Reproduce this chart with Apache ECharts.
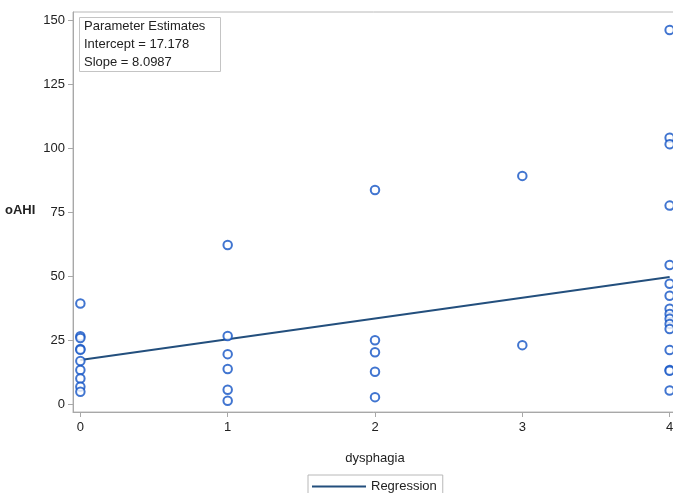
<!DOCTYPE html>
<html>
<head>
<meta charset="utf-8">
<script src="https://cdn.jsdelivr.net/npm/echarts@6/dist/echarts.min.js"></script>
<style>
html,body{margin:0;padding:0;background:#fff;}
#c{width:673px;height:493px;}
</style>
</head>
<body>
<div id="c"></div>
<script>
// dysphagia score (x) and oAHI (y)
const dysphagia = [
  0,0,0,0,0,0,0,0,0,0,
  1,1,1,1,1,1,
  2,2,2,2,2,
  3,3,
  4,4,4,4,4,4,4,4,4,4,4,4,4,4,4,4
];
const oAHI = [
  39.3,26.5,25.8,21.5,21.2,16.8,13.3,10.0,6.8,4.8,
  62.1,26.6,19.5,13.7,5.6,1.3,
  83.6,24.9,20.2,12.6,2.7,
  89.1,23.0,
  146.1,104.0,101.5,77.5,54.3,47.0,42.3,37.2,35.2,33.3,31.3,29.3,21.1,13.3,13.0,5.3
];
const xTicks = [0,1,2,3,4];
const yTicks = [0,25,50,75,100,125,150];
const intercept = 17.178;
const slope = 8.0987;
const regX = [0,4];
const estimateLines = ['Parameter Estimates','Intercept = 17.178','Slope = 8.0987'];

const pts = dysphagia.map((x,i)=>[x,oAHI[i]]);
const reg = regX.map(x=>[x, intercept + slope*x]);
const FONT = 'Liberation Sans';

const chart = echarts.init(document.getElementById('c'));
chart.setOption({
  animation:false,
  textStyle:{fontFamily:FONT},
  grid:{left:73, top:12, width:604, height:400, show:true, borderColor:'#b8b8b8', borderWidth:1,
        outerBoundsMode:'none', containLabel:false},
  xAxis:{
    type:'value', min:-0.05, max:4.05,
    name:'dysphagia', nameLocation:'middle', nameGap:40,
    nameTextStyle:{fontFamily:FONT, fontSize:13, color:'#222'},
    axisLine:{show:true, onZero:false, lineStyle:{color:'#a8a8a8'}},
    axisTick:{show:true, length:5, lineStyle:{color:'#a8a8a8'}, customValues:xTicks},
    axisLabel:{fontFamily:FONT, fontSize:13, color:'#222', margin:9, customValues:xTicks},
    splitLine:{show:false}
  },
  yAxis:{
    type:'value', min:-3.1, max:153.1,
    axisLine:{show:true, onZero:false, lineStyle:{color:'#a8a8a8'}},
    axisTick:{show:true, length:5, lineStyle:{color:'#a8a8a8'}, customValues:yTicks},
    axisLabel:{fontFamily:FONT, fontSize:13, color:'#222', margin:8, customValues:yTicks},
    splitLine:{show:false}
  },
  legend:{
    data:[{name:'Regression', icon:'rect'}],
    left:308, top:475,
    itemWidth:54, itemHeight:2, itemGap:5,
    borderColor:'#b8b8b8', borderWidth:1, padding:[5,6,8,4],
    textStyle:{fontFamily:FONT, fontSize:13, color:'#222'}
  },
  graphic:[
    {type:'rect', left:79, top:17, shape:{width:141, height:54},
     style:{fill:'#fff', stroke:'#c4c4c4', lineWidth:1}, z:100},
    {type:'text', left:84, top:20, style:{text:estimateLines[0], font:'13px "Liberation Sans"', fill:'#222'}, z:101},
    {type:'text', left:84, top:38, style:{text:estimateLines[1], font:'13px "Liberation Sans"', fill:'#222'}, z:101},
    {type:'text', left:84, top:56, style:{text:estimateLines[2], font:'13px "Liberation Sans"', fill:'#222'}, z:101},
    {type:'text', left:5, top:204, style:{text:'oAHI', font:'bold 13px "Liberation Sans"', fill:'#222'}, z:101}
  ],
  series:[
    {
      type:'scatter', name:'obs', data:pts,
      symbol:'emptyCircle', symbolSize:8.5,
      itemStyle:{color:'#1252c4', borderColor:'#1252c4', borderWidth:2.3},
      z:3
    },
    {
      type:'line', name:'Regression', data:reg,
      symbol:'none', lineStyle:{color:'#234f7d', width:2},
      itemStyle:{color:'#234f7d'},
      z:2
    }
  ]
});
</script>
</body>
</html>
